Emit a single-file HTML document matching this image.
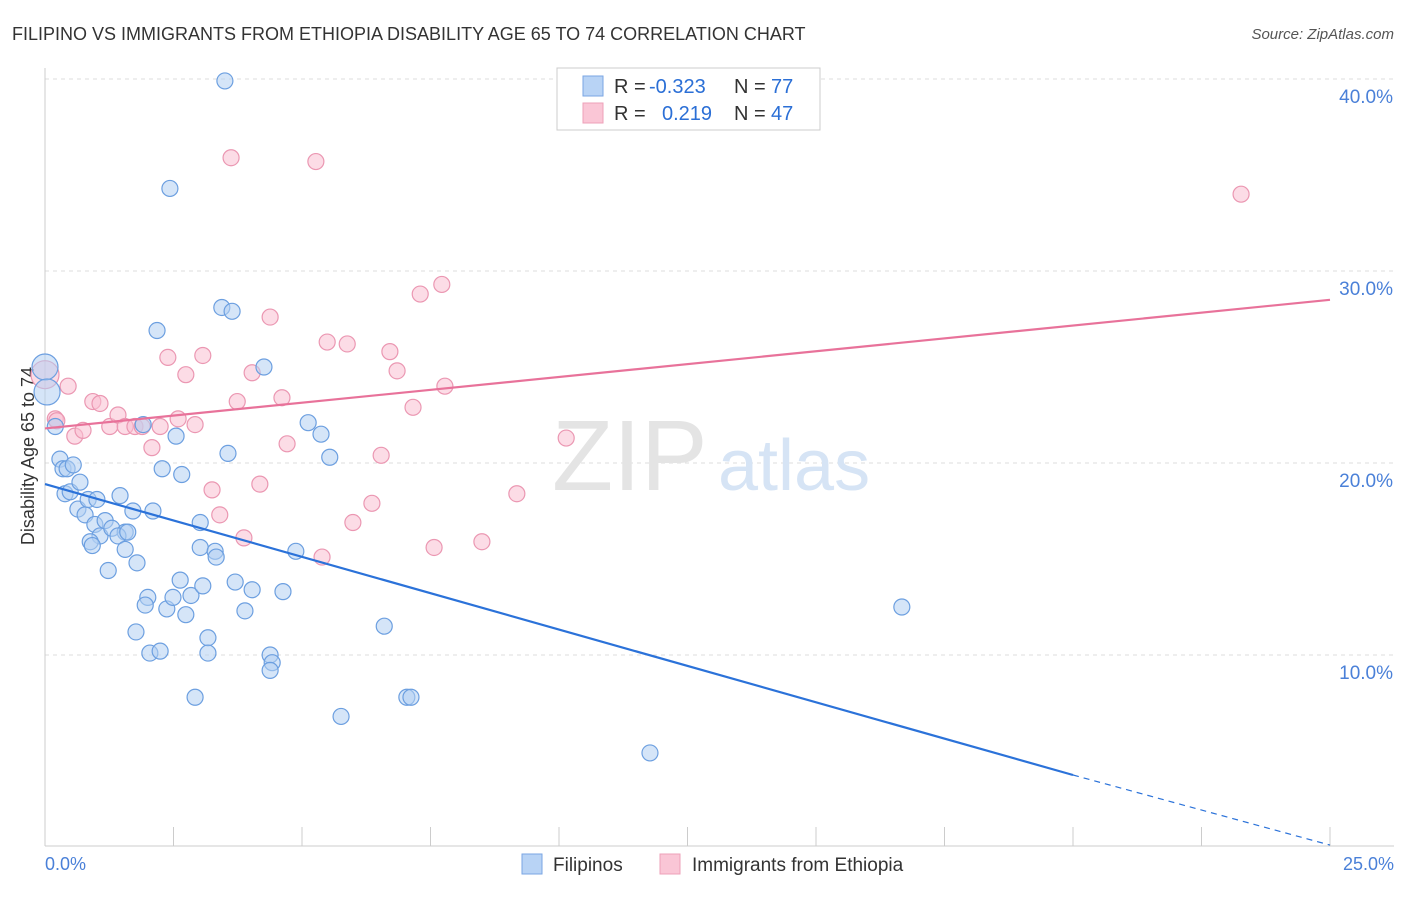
<!DOCTYPE html>
<html><head><meta charset="utf-8"><style>
body{margin:0;background:#fff;font-family:"Liberation Sans",sans-serif;}
svg text{font-family:"Liberation Sans",sans-serif;}
</style></head><body>
<svg id="chart" width="1406" height="892" xmlns="http://www.w3.org/2000/svg">
<text x="12" y="40" font-size="18" fill="#333">FILIPINO VS IMMIGRANTS FROM ETHIOPIA DISABILITY AGE 65 TO 74 CORRELATION CHART</text>
<text x="1394" y="39" font-size="15" fill="#555" text-anchor="end" font-style="italic">Source: ZipAtlas.com</text>
<g id="grid"></g>
<line x1="45" y1="68" x2="45" y2="846" stroke="#ccc"/>
<line x1="45" y1="846" x2="1394" y2="846" stroke="#ccc"/>
<text x="552" y="490" font-size="100" fill="#e4e4e4" font-family="Liberation Serif">ZIP</text>
<text x="718" y="490" font-size="72" fill="#d6e4f5">atlas</text>
<text transform="translate(34,456) rotate(-90)" font-size="18" fill="#333" text-anchor="middle">Disability Age 65 to 74</text>
<text x="45" y="870" font-size="18" fill="#4a80d8">0.0%</text>
<text x="1394" y="870" font-size="18" fill="#4a80d8" text-anchor="end">25.0%</text>
<g id="pts"></g>
<g id="lines"></g>
<g>
<rect x="557" y="68" width="263" height="62" fill="#fff" stroke="#ccc"/>
<rect x="583" y="76" width="20" height="20" fill="#b8d3f5" stroke="#7aa6e3"/>
<rect x="583" y="103" width="20" height="20" fill="#fac6d6" stroke="#eea0b8"/>
<text y="93" font-size="20" fill="#333"><tspan x="614">R =</tspan><tspan x="649" fill="#2b6fd6">-0.323</tspan><tspan x="734">N =</tspan><tspan x="771" fill="#2b6fd6">77</tspan></text>
<text y="120" font-size="20" fill="#333"><tspan x="614">R =</tspan><tspan x="662" fill="#2b6fd6">0.219</tspan><tspan x="734">N =</tspan><tspan x="771" fill="#2b6fd6">47</tspan></text>
</g>
<g>
<rect x="522" y="854" width="20" height="20" fill="#b8d3f5" stroke="#7aa6e3"/>
<text x="553" y="871" font-size="19" fill="#333">Filipinos</text>
<rect x="660" y="854" width="20" height="20" fill="#fac6d6" stroke="#eea0b8"/>
<text x="692" y="871" font-size="19" fill="#333">Immigrants from Ethiopia</text>
</g>
</svg>
<script>
const yTicks=[10,20,30,40];
const xTicks=[0,2.5,5,7.5,10,12.5,15,17.5,20,22.5,25];
const blueX=[0,0.04,0.2,0.29,0.35,0.43,0.55,0.39,0.49,0.68,0.64,0.78,0.84,1.01,0.97,1.17,1.07,1.3,1.46,1.56,1.42,1.61,0.88,0.92,1.23,1.56,1.71,1.79,2.1,1.91,2.28,2.18,2.43,2.55,2.66,2.0,1.95,1.77,2.04,2.24,2.37,2.49,2.63,2.74,2.84,3.07,3.02,3.02,3.31,3.33,3.17,3.17,2.92,3.5,3.44,3.64,3.56,3.7,3.89,4.03,4.26,4.38,4.42,4.38,4.63,4.88,5.12,5.37,5.54,5.76,6.6,7.04,7.12,11.77,16.67];
const blueY=[25.0,23.7,21.9,20.2,19.7,19.7,19.9,18.4,18.5,19.0,17.6,17.3,18.1,18.1,16.8,17.0,16.2,16.6,18.3,16.4,16.2,16.4,15.9,15.7,14.4,15.5,17.5,14.8,17.5,22.0,19.7,26.9,34.3,21.4,19.4,13.0,12.6,11.2,10.1,10.2,12.4,13.0,13.9,12.1,13.1,13.6,16.9,15.6,15.4,15.1,10.9,10.1,7.8,39.9,28.1,27.9,20.5,13.8,12.3,13.4,25.0,10.0,9.6,9.2,13.3,15.4,22.1,21.5,20.3,6.8,11.5,7.8,7.8,4.9,12.5];
const pinkX=[0,0.2,0.23,0.45,0.58,0.74,0.93,1.07,1.26,1.42,1.56,1.75,1.89,2.08,2.24,2.39,2.59,2.74,2.92,3.07,3.25,3.4,3.62,3.74,3.87,4.03,4.18,4.38,4.61,4.71,5.27,5.39,5.49,5.88,5.99,6.36,6.54,6.71,6.85,7.16,7.3,7.57,7.72,7.78,8.5,9.18,10.14,23.27];
const pinkY=[24.6,22.3,22.2,24.0,21.4,21.7,23.2,23.1,21.9,22.5,21.9,21.9,21.9,20.8,21.9,25.5,22.3,24.6,22.0,25.6,18.6,17.3,35.9,23.2,16.1,24.7,18.9,27.6,23.4,21.0,35.7,15.1,26.3,26.2,16.9,17.9,20.4,25.8,24.8,22.9,28.8,15.6,29.3,24.0,15.9,18.4,21.3,34.0];
const blueLine=[[0,18.9],[20,3.75]];
const blueDash=[[20,3.75],[25,0.1]];
const pinkLine=[[0,21.8],[25,28.5]];
const X=v=>45+v*51.4, Y=v=>847-v*19.2;
const NS="http://www.w3.org/2000/svg";
const grid=document.getElementById('grid');
yTicks.forEach(t=>{
 const l=document.createElementNS(NS,'line');
 
 
 l.setAttribute('x1',45);l.setAttribute('x2',1394);l.setAttribute('y1',Y(t));l.setAttribute('y2',Y(t));
 l.setAttribute('stroke','#ddd');l.setAttribute('stroke-dasharray','4,4');grid.appendChild(l);
 const tx=document.createElementNS(NS,'text');
 
 
 tx.setAttribute('x',1393);tx.setAttribute('y',Y(t)+24);tx.setAttribute('text-anchor','end');
 tx.setAttribute('font-size','19');tx.setAttribute('fill','#4a80d8');tx.textContent=t.toFixed(1)+'%';grid.appendChild(tx);
});
xTicks.forEach(t=>{
 const l=document.createElementNS(NS,'line');
 
 
 l.setAttribute('x1',X(t));l.setAttribute('x2',X(t));l.setAttribute('y1',827);l.setAttribute('y2',846);
 l.setAttribute('stroke','#ccc');grid.appendChild(l);
});
const pts=document.getElementById('pts');
function dot(x,y,r,fill,stroke,name){
 const c=document.createElementNS(NS,'circle');
 
 
 c.setAttribute('cx',X(x));c.setAttribute('cy',Y(y));c.setAttribute('r',r);
 c.setAttribute('fill',fill);c.setAttribute('fill-opacity','0.55');c.setAttribute('stroke',stroke);c.setAttribute('stroke-width','1.2');
 pts.appendChild(c);
}
pinkX.forEach((x,i)=>dot(x,pinkY[i],i==0?14:8,'#f9c0d2','#eb97b2','ethiopia-point'));
blueX.forEach((x,i)=>dot(x,blueY[i],i<2?13:8,'#b3cff3','#6c9fe0','filipino-point'));
const lines=document.getElementById('lines');
function seg(p,color,dash,name){
 const l=document.createElementNS(NS,'line');
 
 
 l.setAttribute('x1',X(p[0][0]));l.setAttribute('y1',Y(p[0][1]));l.setAttribute('x2',X(p[1][0]));l.setAttribute('y2',Y(p[1][1]));
 l.setAttribute('stroke',color);l.setAttribute('stroke-width',dash?1.2:2.2);if(dash)l.setAttribute('stroke-dasharray','6,5');
 lines.appendChild(l);
}
seg(blueLine,'#2b72d9',false,'filipino-trendline');
seg(blueDash,'#2b72d9',true,'filipino-trendline-extension');
seg(pinkLine,'#e8729a',false,'ethiopia-trendline');
</script>
</body></html>
